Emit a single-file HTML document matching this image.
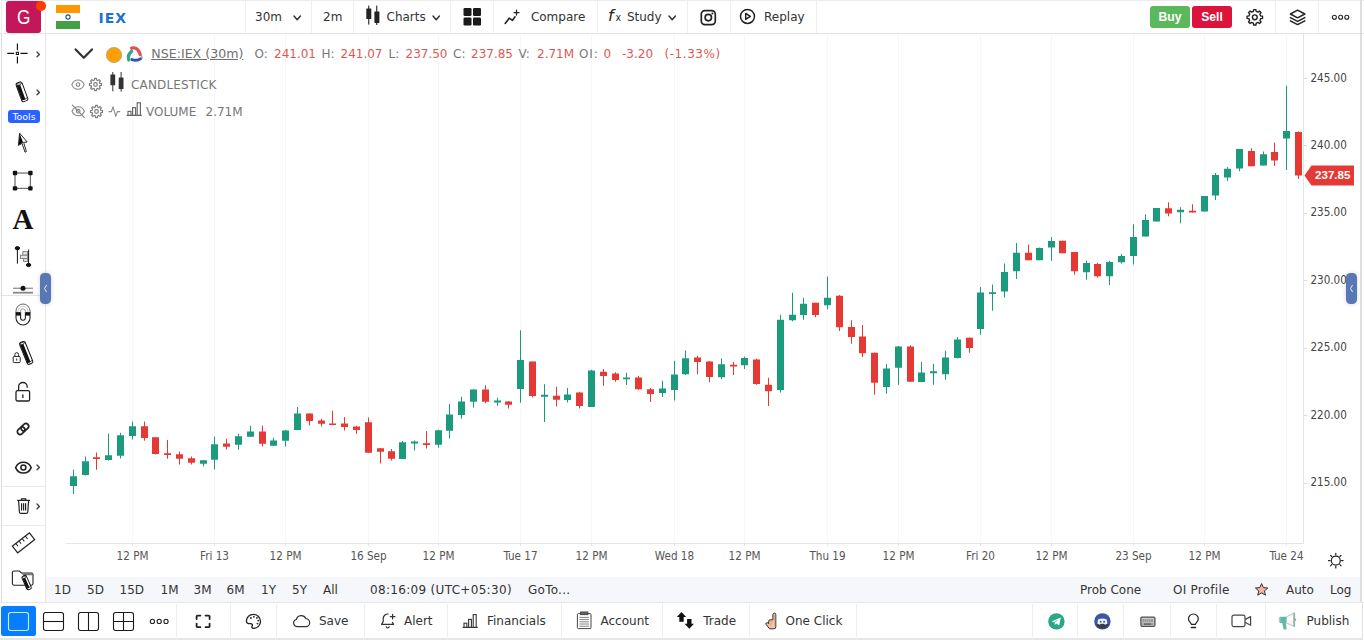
<!DOCTYPE html>
<html lang="en"><head><meta charset="utf-8"><title>IEX Chart</title>
<style>
html,body{margin:0;padding:0;background:#fff}
body{width:1364px;height:640px;position:relative;overflow:hidden;font-family:"DejaVu Sans","Liberation Sans",sans-serif;font-size:12px;color:#333}
.ic{position:absolute;display:block;overflow:visible}
.ln{position:absolute;display:block}
.t{position:absolute;white-space:nowrap;line-height:16px;font-size:12px;color:#333}
.c{position:absolute;white-space:nowrap;line-height:14px;font-size:11.6px;color:#555;font-family:"DejaVu Sans Condensed","DejaVu Sans","Liberation Sans",sans-serif}
.lg{color:#777}
.rv{color:#dd5753}
#chart{position:absolute;left:0;top:0}
</style></head>
<body>
<svg id="chart" width="1364" height="640" viewBox="0 0 1364 640"><rect x="132" y="34" width="1" height="509" fill="#f6f7fa"/><rect x="214" y="34" width="1" height="509" fill="#f6f7fa"/><rect x="285" y="34" width="1" height="509" fill="#f6f7fa"/><rect x="368" y="34" width="1" height="509" fill="#f6f7fa"/><rect x="438" y="34" width="1" height="509" fill="#f6f7fa"/><rect x="520" y="34" width="1" height="509" fill="#f6f7fa"/><rect x="591" y="34" width="1" height="509" fill="#f6f7fa"/><rect x="674" y="34" width="1" height="509" fill="#f6f7fa"/><rect x="744" y="34" width="1" height="509" fill="#f6f7fa"/><rect x="827" y="34" width="1" height="509" fill="#f6f7fa"/><rect x="898" y="34" width="1" height="509" fill="#f6f7fa"/><rect x="980" y="34" width="1" height="509" fill="#f6f7fa"/><rect x="1051" y="34" width="1" height="509" fill="#f6f7fa"/><rect x="1133" y="34" width="1" height="509" fill="#f6f7fa"/><rect x="1204" y="34" width="1" height="509" fill="#f6f7fa"/><rect x="1286" y="34" width="1" height="509" fill="#f6f7fa"/><rect x="1303" y="34" width="1" height="510" fill="#e4e4e4"/><rect x="66" y="543" width="1238" height="1" fill="#e5e5e5"/><rect x="132" y="544" width="1" height="2" fill="#e4e4e4"/><rect x="214" y="544" width="1" height="2" fill="#e4e4e4"/><rect x="285" y="544" width="1" height="2" fill="#e4e4e4"/><rect x="368" y="544" width="1" height="2" fill="#e4e4e4"/><rect x="438" y="544" width="1" height="2" fill="#e4e4e4"/><rect x="520" y="544" width="1" height="2" fill="#e4e4e4"/><rect x="591" y="544" width="1" height="2" fill="#e4e4e4"/><rect x="674" y="544" width="1" height="2" fill="#e4e4e4"/><rect x="744" y="544" width="1" height="2" fill="#e4e4e4"/><rect x="827" y="544" width="1" height="2" fill="#e4e4e4"/><rect x="898" y="544" width="1" height="2" fill="#e4e4e4"/><rect x="980" y="544" width="1" height="2" fill="#e4e4e4"/><rect x="1051" y="544" width="1" height="2" fill="#e4e4e4"/><rect x="1133" y="544" width="1" height="2" fill="#e4e4e4"/><rect x="1204" y="544" width="1" height="2" fill="#e4e4e4"/><rect x="1286" y="544" width="1" height="2" fill="#e4e4e4"/><rect x="1304" y="78" width="3" height="1" fill="#dcdcdc"/><rect x="1304" y="145" width="3" height="1" fill="#dcdcdc"/><rect x="1304" y="213" width="3" height="1" fill="#dcdcdc"/><rect x="1304" y="280" width="3" height="1" fill="#dcdcdc"/><rect x="1304" y="348" width="3" height="1" fill="#dcdcdc"/><rect x="1304" y="415" width="3" height="1" fill="#dcdcdc"/><rect x="1304" y="483" width="3" height="1" fill="#dcdcdc"/><rect x="73" y="469.75" width="1" height="24.25" fill="#1c9a7d"/><rect x="70" y="476.25" width="7" height="9.75" fill="#1c9a7d"/><rect x="85" y="456.5" width="1" height="19" fill="#1c9a7d"/><rect x="82" y="461.25" width="7" height="13.75" fill="#1c9a7d"/><rect x="96" y="452.5" width="1" height="17.25" fill="#e53935"/><rect x="93" y="457.25" width="7" height="1.75" fill="#e53935"/><rect x="108" y="433.75" width="1" height="26.75" fill="#1c9a7d"/><rect x="105" y="455.25" width="7" height="4.75" fill="#1c9a7d"/><rect x="120" y="432.75" width="1" height="25.75" fill="#1c9a7d"/><rect x="117" y="435.25" width="7" height="20.5" fill="#1c9a7d"/><rect x="132" y="421.5" width="1" height="18" fill="#1c9a7d"/><rect x="129" y="426.25" width="7" height="9.75" fill="#1c9a7d"/><rect x="144" y="421.5" width="1" height="19.25" fill="#e53935"/><rect x="141" y="426.25" width="7" height="11.75" fill="#e53935"/><rect x="155" y="437.25" width="1" height="17.25" fill="#e53935"/><rect x="152" y="437.25" width="7" height="16.75" fill="#e53935"/><rect x="167" y="440" width="1" height="18.75" fill="#e53935"/><rect x="164" y="453.25" width="7" height="1.75" fill="#e53935"/><rect x="179" y="451.5" width="1" height="13" fill="#e53935"/><rect x="176" y="454.25" width="7" height="4.5" fill="#e53935"/><rect x="191" y="456.5" width="1" height="8" fill="#e53935"/><rect x="188" y="458.25" width="7" height="4.5" fill="#e53935"/><rect x="203" y="460.25" width="1" height="6.25" fill="#1c9a7d"/><rect x="200" y="460.25" width="7" height="3.5" fill="#1c9a7d"/><rect x="214" y="436.5" width="1" height="33" fill="#1c9a7d"/><rect x="211" y="444.25" width="7" height="15.5" fill="#1c9a7d"/><rect x="226" y="438.75" width="1" height="10.75" fill="#e53935"/><rect x="223" y="443.5" width="7" height="3.25" fill="#e53935"/><rect x="238" y="433.75" width="1" height="16" fill="#1c9a7d"/><rect x="235" y="436.25" width="7" height="8.5" fill="#1c9a7d"/><rect x="250" y="425.75" width="1" height="11.25" fill="#1c9a7d"/><rect x="247" y="431.5" width="7" height="5.25" fill="#1c9a7d"/><rect x="262" y="425.5" width="1" height="21" fill="#e53935"/><rect x="259" y="431.5" width="7" height="12.25" fill="#e53935"/><rect x="273" y="437.75" width="1" height="8.25" fill="#1c9a7d"/><rect x="270" y="440.5" width="7" height="5.25" fill="#1c9a7d"/><rect x="285" y="430" width="1" height="16.5" fill="#1c9a7d"/><rect x="282" y="430.5" width="7" height="10.25" fill="#1c9a7d"/><rect x="297" y="407" width="1" height="23.25" fill="#1c9a7d"/><rect x="294" y="413.5" width="7" height="16.5" fill="#1c9a7d"/><rect x="309" y="413.25" width="1" height="12.25" fill="#e53935"/><rect x="306" y="413.5" width="7" height="7.5" fill="#e53935"/><rect x="321" y="418.75" width="1" height="7.75" fill="#e53935"/><rect x="318" y="420.5" width="7" height="3.25" fill="#e53935"/><rect x="332" y="410.75" width="1" height="14.25" fill="#e53935"/><rect x="329" y="423.5" width="7" height="1.5" fill="#e53935"/><rect x="344" y="417" width="1" height="13.5" fill="#e53935"/><rect x="341" y="423.5" width="7" height="3.5" fill="#e53935"/><rect x="356" y="426.25" width="1" height="7.5" fill="#e53935"/><rect x="353" y="426.5" width="7" height="3.5" fill="#e53935"/><rect x="368" y="417.5" width="1" height="35.5" fill="#e53935"/><rect x="365" y="422.25" width="7" height="30.5" fill="#e53935"/><rect x="380" y="448.25" width="1" height="15.25" fill="#e53935"/><rect x="377" y="448.25" width="7" height="3.5" fill="#e53935"/><rect x="391" y="449" width="1" height="11.5" fill="#e53935"/><rect x="388" y="451.25" width="7" height="7.5" fill="#e53935"/><rect x="402" y="441" width="1" height="18" fill="#1c9a7d"/><rect x="399" y="442.25" width="7" height="16.75" fill="#1c9a7d"/><rect x="414" y="440.5" width="1" height="10" fill="#1c9a7d"/><rect x="411" y="441.5" width="7" height="2" fill="#1c9a7d"/><rect x="426" y="431" width="1" height="17.5" fill="#e53935"/><rect x="423" y="443.25" width="7" height="1.75" fill="#e53935"/><rect x="438" y="429.75" width="1" height="18" fill="#1c9a7d"/><rect x="435" y="430.25" width="7" height="14.5" fill="#1c9a7d"/><rect x="449" y="404" width="1" height="34.5" fill="#1c9a7d"/><rect x="446" y="414.5" width="7" height="16.25" fill="#1c9a7d"/><rect x="461" y="396.75" width="1" height="22" fill="#1c9a7d"/><rect x="458" y="401.5" width="7" height="13.5" fill="#1c9a7d"/><rect x="473" y="389.25" width="1" height="18.25" fill="#1c9a7d"/><rect x="470" y="389.5" width="7" height="12.25" fill="#1c9a7d"/><rect x="485" y="385.25" width="1" height="18" fill="#e53935"/><rect x="482" y="389.5" width="7" height="12.25" fill="#e53935"/><rect x="497" y="397.75" width="1" height="8" fill="#1c9a7d"/><rect x="494" y="400.5" width="7" height="2" fill="#1c9a7d"/><rect x="508" y="401" width="1" height="7.5" fill="#e53935"/><rect x="505" y="401.5" width="7" height="3.25" fill="#e53935"/><rect x="520" y="330.25" width="1" height="72.5" fill="#1c9a7d"/><rect x="517" y="360" width="7" height="29" fill="#1c9a7d"/><rect x="532" y="361.5" width="1" height="36" fill="#e53935"/><rect x="529" y="361.5" width="7" height="34.5" fill="#e53935"/><rect x="544" y="384.25" width="1" height="37.75" fill="#1c9a7d"/><rect x="541" y="394.75" width="7" height="2" fill="#1c9a7d"/><rect x="556" y="386.75" width="1" height="19.75" fill="#e53935"/><rect x="553" y="395.75" width="7" height="4" fill="#e53935"/><rect x="567" y="388" width="1" height="14.5" fill="#1c9a7d"/><rect x="564" y="394.5" width="7" height="5.5" fill="#1c9a7d"/><rect x="579" y="392" width="1" height="16.5" fill="#e53935"/><rect x="576" y="392.5" width="7" height="13.5" fill="#e53935"/><rect x="591" y="369.75" width="1" height="37.25" fill="#1c9a7d"/><rect x="588" y="370.5" width="7" height="36.5" fill="#1c9a7d"/><rect x="603" y="369" width="1" height="16.75" fill="#e53935"/><rect x="600" y="371.75" width="7" height="4.25" fill="#e53935"/><rect x="615" y="372.25" width="1" height="9.5" fill="#e53935"/><rect x="612" y="373.5" width="7" height="6.5" fill="#e53935"/><rect x="626" y="372.75" width="1" height="12.25" fill="#1c9a7d"/><rect x="623" y="377.5" width="7" height="1.75" fill="#1c9a7d"/><rect x="638" y="375.75" width="1" height="14" fill="#e53935"/><rect x="635" y="377.5" width="7" height="11.75" fill="#e53935"/><rect x="650" y="388" width="1" height="14" fill="#e53935"/><rect x="647" y="389.25" width="7" height="4.75" fill="#e53935"/><rect x="662" y="380.75" width="1" height="16.25" fill="#1c9a7d"/><rect x="659" y="388.5" width="7" height="4.5" fill="#1c9a7d"/><rect x="674" y="360.75" width="1" height="39.75" fill="#1c9a7d"/><rect x="671" y="374.5" width="7" height="15.5" fill="#1c9a7d"/><rect x="685" y="350.5" width="1" height="24.5" fill="#1c9a7d"/><rect x="682" y="358.25" width="7" height="16" fill="#1c9a7d"/><rect x="697" y="355.75" width="1" height="18.5" fill="#e53935"/><rect x="694" y="357.5" width="7" height="4.5" fill="#e53935"/><rect x="709" y="361" width="1" height="21.25" fill="#e53935"/><rect x="706" y="361.5" width="7" height="15.5" fill="#e53935"/><rect x="721" y="358.5" width="1" height="20.5" fill="#1c9a7d"/><rect x="718" y="364.25" width="7" height="13" fill="#1c9a7d"/><rect x="733" y="361.75" width="1" height="13.25" fill="#e53935"/><rect x="730" y="364.75" width="7" height="1.75" fill="#e53935"/><rect x="744" y="356.5" width="1" height="12.5" fill="#1c9a7d"/><rect x="741" y="358" width="7" height="7.25" fill="#1c9a7d"/><rect x="756" y="358.75" width="1" height="26" fill="#e53935"/><rect x="753" y="359.5" width="7" height="24.5" fill="#e53935"/><rect x="768" y="377.75" width="1" height="28.25" fill="#e53935"/><rect x="765" y="384.75" width="7" height="6.5" fill="#e53935"/><rect x="780" y="314.75" width="1" height="77.75" fill="#1c9a7d"/><rect x="777" y="319.75" width="7" height="70.25" fill="#1c9a7d"/><rect x="792" y="292.75" width="1" height="28.5" fill="#1c9a7d"/><rect x="789" y="314.75" width="7" height="5.5" fill="#1c9a7d"/><rect x="803" y="297.75" width="1" height="22" fill="#1c9a7d"/><rect x="800" y="303.75" width="7" height="11.25" fill="#1c9a7d"/><rect x="815" y="302.75" width="1" height="14.5" fill="#e53935"/><rect x="812" y="302.75" width="7" height="12.25" fill="#e53935"/><rect x="827" y="276.5" width="1" height="32.75" fill="#1c9a7d"/><rect x="824" y="297.75" width="7" height="7.5" fill="#1c9a7d"/><rect x="839" y="295" width="1" height="36" fill="#e53935"/><rect x="836" y="295.75" width="7" height="31.5" fill="#e53935"/><rect x="851" y="320.25" width="1" height="23.5" fill="#e53935"/><rect x="848" y="327" width="7" height="10" fill="#e53935"/><rect x="862" y="325" width="1" height="32" fill="#e53935"/><rect x="859" y="336.5" width="7" height="16.75" fill="#e53935"/><rect x="874" y="352.75" width="1" height="42" fill="#e53935"/><rect x="871" y="352.75" width="7" height="30" fill="#e53935"/><rect x="886" y="364" width="1" height="29.75" fill="#1c9a7d"/><rect x="883" y="368.5" width="7" height="18.5" fill="#1c9a7d"/><rect x="898" y="346" width="1" height="38.75" fill="#1c9a7d"/><rect x="895" y="346.5" width="7" height="21.25" fill="#1c9a7d"/><rect x="910" y="345.25" width="1" height="36.5" fill="#e53935"/><rect x="907" y="346.5" width="7" height="35.25" fill="#e53935"/><rect x="921" y="362" width="1" height="20.25" fill="#1c9a7d"/><rect x="918" y="372.5" width="7" height="9.5" fill="#1c9a7d"/><rect x="933" y="363.75" width="1" height="21" fill="#1c9a7d"/><rect x="930" y="371.25" width="7" height="2" fill="#1c9a7d"/><rect x="945" y="350.75" width="1" height="29" fill="#1c9a7d"/><rect x="942" y="357.5" width="7" height="16.75" fill="#1c9a7d"/><rect x="957" y="337" width="1" height="21.5" fill="#1c9a7d"/><rect x="954" y="339.5" width="7" height="18.5" fill="#1c9a7d"/><rect x="969" y="337.5" width="1" height="15.25" fill="#e53935"/><rect x="966" y="337.75" width="7" height="10.25" fill="#e53935"/><rect x="980" y="287" width="1" height="47.75" fill="#1c9a7d"/><rect x="977" y="292.5" width="7" height="36.5" fill="#1c9a7d"/><rect x="992" y="284.5" width="1" height="26.25" fill="#1c9a7d"/><rect x="989" y="292.25" width="7" height="1.75" fill="#1c9a7d"/><rect x="1004" y="263.5" width="1" height="34" fill="#1c9a7d"/><rect x="1001" y="272" width="7" height="19.5" fill="#1c9a7d"/><rect x="1016" y="243" width="1" height="36" fill="#1c9a7d"/><rect x="1013" y="252.75" width="7" height="18.5" fill="#1c9a7d"/><rect x="1028" y="244.5" width="1" height="15.75" fill="#e53935"/><rect x="1025" y="252.75" width="7" height="7.5" fill="#e53935"/><rect x="1039" y="247.5" width="1" height="12.75" fill="#1c9a7d"/><rect x="1036" y="248" width="7" height="12.25" fill="#1c9a7d"/><rect x="1051" y="237" width="1" height="23.75" fill="#1c9a7d"/><rect x="1048" y="241" width="7" height="6.5" fill="#1c9a7d"/><rect x="1062" y="240.75" width="1" height="12.5" fill="#e53935"/><rect x="1059" y="240.75" width="7" height="12.5" fill="#e53935"/><rect x="1074" y="252" width="1" height="22.75" fill="#e53935"/><rect x="1071" y="252" width="7" height="19.25" fill="#e53935"/><rect x="1086" y="260.5" width="1" height="19.25" fill="#1c9a7d"/><rect x="1083" y="263" width="7" height="9.25" fill="#1c9a7d"/><rect x="1097" y="262.75" width="1" height="14.75" fill="#e53935"/><rect x="1094" y="264" width="7" height="12.25" fill="#e53935"/><rect x="1109" y="260.75" width="1" height="24.25" fill="#1c9a7d"/><rect x="1106" y="262" width="7" height="14.25" fill="#1c9a7d"/><rect x="1121" y="254" width="1" height="9.5" fill="#1c9a7d"/><rect x="1118" y="256" width="7" height="6.25" fill="#1c9a7d"/><rect x="1133" y="224.25" width="1" height="40.25" fill="#1c9a7d"/><rect x="1130" y="237" width="7" height="19" fill="#1c9a7d"/><rect x="1145" y="214.25" width="1" height="22.25" fill="#1c9a7d"/><rect x="1142" y="220" width="7" height="16.5" fill="#1c9a7d"/><rect x="1156" y="208" width="1" height="13.5" fill="#1c9a7d"/><rect x="1153" y="208" width="7" height="13.5" fill="#1c9a7d"/><rect x="1168" y="202.25" width="1" height="14" fill="#e53935"/><rect x="1165" y="208.25" width="7" height="5.25" fill="#e53935"/><rect x="1180" y="207.25" width="1" height="16" fill="#1c9a7d"/><rect x="1177" y="209.75" width="7" height="2.5" fill="#1c9a7d"/><rect x="1192" y="204.25" width="1" height="8.25" fill="#e53935"/><rect x="1189" y="210.75" width="7" height="1.75" fill="#e53935"/><rect x="1204" y="196" width="1" height="15.5" fill="#1c9a7d"/><rect x="1201" y="196" width="7" height="15.5" fill="#1c9a7d"/><rect x="1215" y="173" width="1" height="27" fill="#1c9a7d"/><rect x="1212" y="175" width="7" height="20.5" fill="#1c9a7d"/><rect x="1227" y="167" width="1" height="14" fill="#1c9a7d"/><rect x="1224" y="168.75" width="7" height="8.75" fill="#1c9a7d"/><rect x="1239" y="149" width="1" height="22.25" fill="#1c9a7d"/><rect x="1236" y="149" width="7" height="19.5" fill="#1c9a7d"/><rect x="1251" y="148.25" width="1" height="18" fill="#e53935"/><rect x="1248" y="151" width="7" height="15.25" fill="#e53935"/><rect x="1263" y="151.5" width="1" height="14" fill="#1c9a7d"/><rect x="1260" y="154.25" width="7" height="11.25" fill="#1c9a7d"/><rect x="1274" y="142.5" width="1" height="23.5" fill="#e53935"/><rect x="1271" y="152" width="7" height="8.5" fill="#e53935"/><rect x="1286" y="85.75" width="1" height="84.25" fill="#1c9a7d"/><rect x="1283" y="131" width="7" height="7.5" fill="#1c9a7d"/><rect x="1298" y="131.5" width="1" height="47.5" fill="#e53935"/><rect x="1295" y="132" width="7" height="43.5" fill="#e53935"/><path d="M1304.5 175.5 L1311.5 165.5 H1354 V185.5 H1311.5 Z" fill="#e53935"/></svg>
<span class="c" style="left:102.5px;top:548.5px;width:60px;text-align:center">12 PM</span>
<span class="c" style="left:184.5px;top:548.5px;width:60px;text-align:center">Fri 13</span>
<span class="c" style="left:255.5px;top:548.5px;width:60px;text-align:center">12 PM</span>
<span class="c" style="left:338.5px;top:548.5px;width:60px;text-align:center">16 Sep</span>
<span class="c" style="left:408.5px;top:548.5px;width:60px;text-align:center">12 PM</span>
<span class="c" style="left:490.5px;top:548.5px;width:60px;text-align:center">Tue 17</span>
<span class="c" style="left:561.5px;top:548.5px;width:60px;text-align:center">12 PM</span>
<span class="c" style="left:644.5px;top:548.5px;width:60px;text-align:center">Wed 18</span>
<span class="c" style="left:714.5px;top:548.5px;width:60px;text-align:center">12 PM</span>
<span class="c" style="left:797.5px;top:548.5px;width:60px;text-align:center">Thu 19</span>
<span class="c" style="left:868.5px;top:548.5px;width:60px;text-align:center">12 PM</span>
<span class="c" style="left:950.5px;top:548.5px;width:60px;text-align:center">Fri 20</span>
<span class="c" style="left:1021.5px;top:548.5px;width:60px;text-align:center">12 PM</span>
<span class="c" style="left:1103.5px;top:548.5px;width:60px;text-align:center">23 Sep</span>
<span class="c" style="left:1174.5px;top:548.5px;width:60px;text-align:center">12 PM</span>
<span class="c" style="left:1256.5px;top:548.5px;width:60px;text-align:center">Tue 24</span>
<span class="c" style="left:1310.4px;top:70.5px;color:#444">245.00</span>
<span class="c" style="left:1310.4px;top:137.9px;color:#444">240.00</span>
<span class="c" style="left:1310.4px;top:205.3px;color:#444">235.00</span>
<span class="c" style="left:1310.4px;top:272.7px;color:#444">230.00</span>
<span class="c" style="left:1310.4px;top:340.1px;color:#444">225.00</span>
<span class="c" style="left:1310.4px;top:407.5px;color:#444">220.00</span>
<span class="c" style="left:1310.4px;top:474.9px;color:#444">215.00</span>
<span class="c" style="left:1315px;top:168.4px;color:#fff;font:bold 11.6px/14px 'Liberation Sans',sans-serif">237.85</span>
<svg class="ic" style="left:1326px;top:551px" width="20" height="20" viewBox="0 0 20 20" ><g fill="none" stroke="#222" stroke-width="1.2" stroke-linecap="round"><circle cx="9.8" cy="9.6" r="4.5"/><path d="M9.8 2.3v1.6M9.8 15.3v1.6M2.5 9.6h1.6M15.5 9.6h1.6M4.6 4.4l1.1 1.1M13.9 13.7l1.1 1.1M15 4.4l-1.1 1.1M5.7 13.7l-1.1 1.1"/></g></svg>
<i class="ln" style="left:0px;top:0px;width:1364px;height:1px;background:#ececec"></i>
<i class="ln" style="left:0px;top:33px;width:1364px;height:1px;background:#e4e4e4"></i>
<i class="ln" style="left:45px;top:1px;width:1px;height:32px;background:#eeeeee"></i>
<i class="ln" style="left:245px;top:1px;width:1px;height:32px;background:#eeeeee"></i>
<i class="ln" style="left:311px;top:1px;width:1px;height:32px;background:#eeeeee"></i>
<i class="ln" style="left:353px;top:1px;width:1px;height:32px;background:#eeeeee"></i>
<i class="ln" style="left:450px;top:1px;width:1px;height:32px;background:#eeeeee"></i>
<i class="ln" style="left:493px;top:1px;width:1px;height:32px;background:#eeeeee"></i>
<i class="ln" style="left:597px;top:1px;width:1px;height:32px;background:#eeeeee"></i>
<i class="ln" style="left:687px;top:1px;width:1px;height:32px;background:#eeeeee"></i>
<i class="ln" style="left:730px;top:1px;width:1px;height:32px;background:#eeeeee"></i>
<i class="ln" style="left:816px;top:1px;width:1px;height:32px;background:#eeeeee"></i>
<i class="ln" style="left:1275px;top:1px;width:1px;height:32px;background:#eeeeee"></i>
<i class="ln" style="left:1318px;top:1px;width:1px;height:32px;background:#eeeeee"></i>
<i class="ln" style="left:1px;top:1px;width:1px;height:32px;background:#ececec"></i>
<div class="ln" style="left:6px;top:1px;width:35px;height:32px;border-radius:3px;background:#c2185b;color:#fff;font:20px/33px 'Liberation Sans',sans-serif;text-align:center"><span style="display:inline-block;transform:scaleX(0.86)">G</span></div>
<div class="ln" style="left:36.2px;top:1.4px;width:9.4px;height:9.4px;border-radius:50%;background:#ff3d00"></div>
<svg class="ic" style="left:56px;top:5px" width="24" height="24" viewBox="0 0 24 24" ><rect width="24" height="8" fill="#ff9800"/><rect y="8" width="24" height="8" fill="#fff"/><rect y="16" width="24" height="8" fill="#43a047"/><circle cx="12" cy="12" r="2.1" fill="none" stroke="#1e4fa3" stroke-width="1.1"/></svg>
<span class="t" style="left:98.6px;top:8px;font-weight:bold;font-size:14px;color:#1b72d0;line-height:20px;letter-spacing:1px">IEX</span>
<span class="t" style="left:255px;top:9px;">30m</span>
<svg class="ic" style="left:292.5px;top:14.6px" width="8.4" height="5.7" viewBox="0 0 8.4 5.7"><path d="M1 1 L4.2 4.7 L7.4 1" fill="none" stroke="#333" stroke-width="1.5" stroke-linecap="round" stroke-linejoin="round"/></svg>
<span class="t" style="left:323px;top:9px;">2m</span>
<svg class="ic" style="left:364px;top:4px" width="18" height="23" viewBox="0 0 18 23" ><g fill="#222"><rect x="4.2" y="1.6" width="1.1" height="19"/><rect x="2.3" y="4.4" width="5" height="10.6" rx="0.6"/><rect x="12.2" y="1.6" width="1.1" height="19.4"/><rect x="10.4" y="7.6" width="5" height="11.3" rx="0.6"/></g></svg>
<span class="t" style="left:386.5px;top:9px;">Charts</span>
<svg class="ic" style="left:431.5px;top:14.6px" width="8.4" height="5.7" viewBox="0 0 8.4 5.7"><path d="M1 1 L4.2 4.7 L7.4 1" fill="none" stroke="#333" stroke-width="1.5" stroke-linecap="round" stroke-linejoin="round"/></svg>
<svg class="ic" style="left:463px;top:7px" width="19" height="19" viewBox="0 0 19 19" ><g fill="#1a1a1a"><rect x="0.5" y="1" width="8" height="8" rx="1.3"/><rect x="10" y="1" width="8" height="8" rx="1.3"/><rect x="0.5" y="10.5" width="8" height="8" rx="1.3"/><rect x="10" y="10.5" width="8" height="8" rx="1.3"/></g></svg>
<svg class="ic" style="left:504px;top:9px" width="18" height="17" viewBox="0 0 18 17" ><g fill="none" stroke="#222" stroke-width="1.5" stroke-linecap="round" stroke-linejoin="round"><path d="M1.2 14.4 L5.2 9.2 L8.5 11.4 L11 7.8" stroke-width="1.6"/><path d="M12.5 1.2v4.9M10.05 3.65h4.9" stroke-width="1.25"/></g></svg>
<span class="t" style="left:530.9px;top:9px;">Compare</span>
<span class="t" style="left:608px;top:6.3px;font:italic 16px/20px 'DejaVu Sans',sans-serif;color:#222">f</span>
<span class="t" style="left:615.6px;top:11.3px;font:10.4px/12px 'DejaVu Sans Condensed','DejaVu Sans',sans-serif;color:#222">x</span>
<span class="t" style="left:626.9px;top:9px;">Study</span>
<svg class="ic" style="left:668.3px;top:14.6px" width="8.4" height="5.7" viewBox="0 0 8.4 5.7"><path d="M1 1 L4.2 4.7 L7.4 1" fill="none" stroke="#333" stroke-width="1.5" stroke-linecap="round" stroke-linejoin="round"/></svg>
<svg class="ic" style="left:700px;top:9px" width="17" height="17" viewBox="0 0 17 17" ><g fill="none" stroke="#222" stroke-width="1.7"><rect x="1.3" y="1.6" width="14" height="14" rx="3.6"/><circle cx="8.3" cy="8.6" r="3.2"/></g><circle cx="12.4" cy="4.6" r="1" fill="#222"/></svg>
<svg class="ic" style="left:739px;top:8px" width="17" height="17" viewBox="0 0 17 17" ><g fill="none" stroke="#222" stroke-width="1.5" stroke-linejoin="round"><circle cx="8.5" cy="8.4" r="7"/><path d="M6.7 5.4 L11.3 8.4 L6.7 11.4Z" stroke-width="1.5"/></g></svg>
<span class="t" style="left:764px;top:9px;">Replay</span>
<div class="ln" style="left:1150px;top:6px;width:40px;height:22px;border-radius:3px;background:#5cb85c;color:#fff;font:bold 12.2px/22px 'Liberation Sans',sans-serif;text-align:center">Buy</div>
<div class="ln" style="left:1192px;top:6px;width:40px;height:22px;border-radius:3px;background:#dc143c;color:#fff;font:bold 12.2px/22px 'Liberation Sans',sans-serif;text-align:center">Sell</div>
<svg class="ic" style="left:1246px;top:8px" width="18" height="18" viewBox="0 0 18 18" ><g fill="none" stroke="#222" stroke-width="1.4" stroke-linejoin="round"><path d="M14.63 7.90 L16.52 8.20 L16.52 10.40 L14.63 10.70 L13.92 12.43 L15.04 13.98 L13.48 15.54 L11.93 14.42 L10.20 15.13 L9.90 17.02 L7.70 17.02 L7.40 15.13 L5.67 14.42 L4.12 15.54 L2.56 13.98 L3.68 12.43 L2.97 10.70 L1.08 10.40 L1.08 8.20 L2.97 7.90 L3.68 6.17 L2.56 4.62 L4.12 3.06 L5.67 4.18 L7.40 3.47 L7.70 1.58 L9.90 1.58 L10.20 3.47 L11.93 4.18 L13.48 3.06 L15.04 4.62 L13.92 6.17Z"/><circle cx="8.8" cy="9.3" r="2.4"/></g></svg>
<svg class="ic" style="left:1289px;top:9px" width="18" height="17" viewBox="0 0 18 17" ><g fill="none" stroke="#222" stroke-width="1.5" stroke-linejoin="round" stroke-linecap="round"><path d="M8.6 1.2 L15.8 5 L8.6 8.8 L1.4 5Z"/><path d="M1.4 8.6 L8.6 12.4 L15.8 8.6"/><path d="M1.4 11.8 L8.6 15.6 L15.8 11.8"/></g></svg>
<svg class="ic" style="left:1331px;top:14px" width="20" height="7" viewBox="0 0 20 7" ><g fill="none" stroke="#222" stroke-width="1.1"><circle cx="3.4" cy="3.3" r="2"/><circle cx="9.6" cy="3.3" r="2"/><circle cx="15.8" cy="3.3" r="2"/></g></svg>
<svg class="ic" style="left:73px;top:46px" width="22" height="16" viewBox="0 0 22 16" ><path d="M2.6 3.4 L10.8 11.8 L19 3.4" fill="none" stroke="#333" stroke-width="2.2" stroke-linecap="round" stroke-linejoin="round"/></svg>
<div class="ln" style="left:106px;top:47px;width:13.6px;height:13.6px;border-radius:50%;background:#ffa000;border:0.7px solid #b9a27a"></div>
<svg class="ic" style="left:126px;top:45px" width="18" height="18" viewBox="0 0 18 18" ><g fill="none" stroke-linecap="round"><path d="M5.6 3.2 Q11.8 1.6 14.2 9.6" stroke="#dc5350" stroke-width="3.3"/><path d="M5.6 6.4 Q1.2 10 2.8 15" stroke="#36a78c" stroke-width="3.3"/><path d="M6 14.6 Q10.6 16.2 14.6 13.8" stroke="#2f55a4" stroke-width="3"/><path d="M15.7 10.8 L16 13.2" stroke="#9aa3ad" stroke-width="1.4"/></g></svg>
<span class="t lg" style="left:151.3px;top:46px;font-size:12.6px;text-decoration:underline;color:#707070">NSE:IEX (30m)</span>
<span class="t lg" style="left:254.5px;top:46px;">O:</span>
<span class="t rv" style="left:274px;top:46px;">241.01</span>
<span class="t lg" style="left:321.5px;top:46px;">H:</span>
<span class="t rv" style="left:340.5px;top:46px;">241.07</span>
<span class="t lg" style="left:388.5px;top:46px;">L:</span>
<span class="t rv" style="left:405.5px;top:46px;">237.50</span>
<span class="t lg" style="left:453px;top:46px;">C:</span>
<span class="t rv" style="left:471px;top:46px;">237.85</span>
<span class="t lg" style="left:518.5px;top:46px;">V:</span>
<span class="t rv" style="left:537px;top:46px;">2.71M</span>
<span class="t lg" style="left:579px;top:46px;letter-spacing:0.9px">OI:</span>
<span class="t rv" style="left:603.5px;top:46px;">0</span>
<span class="t rv" style="left:622px;top:46px;">-3.20</span>
<span class="t rv" style="left:664.5px;top:46px;letter-spacing:0.55px">(-1.33%)</span>
<svg class="ic" style="left:70.6px;top:78.6px" width="14" height="12" viewBox="0 0 14 12" ><g fill="none" stroke="#868686" stroke-width="1.1" stroke-linejoin="round"><path d="M0.8 5.6 C3.4 -0.6 10.6 -0.6 13.2 5.6 C10.6 11.8 3.4 11.8 0.8 5.6Z"/><circle cx="7" cy="5.6" r="1.8"/></g></svg>
<svg class="ic" style="left:89px;top:78px" width="13" height="13" viewBox="0 0 13 13" ><g fill="none" stroke="#7c7c7c" stroke-width="1.2" stroke-linejoin="round"><path d="M10.97 5.43 L12.54 5.64 L12.54 7.36 L10.97 7.57 L10.42 8.90 L11.38 10.16 L10.16 11.38 L8.90 10.42 L7.57 10.97 L7.36 12.54 L5.64 12.54 L5.43 10.97 L4.10 10.42 L2.84 11.38 L1.62 10.16 L2.58 8.90 L2.03 7.57 L0.46 7.36 L0.46 5.64 L2.03 5.43 L2.58 4.10 L1.62 2.84 L2.84 1.62 L4.10 2.58 L5.43 2.03 L5.64 0.46 L7.36 0.46 L7.57 2.03 L8.90 2.58 L10.16 1.62 L11.38 2.84 L10.42 4.10Z"/><circle cx="6.5" cy="6.5" r="1.8"/></g></svg>
<svg class="ic" style="left:109px;top:71px" width="16" height="22" viewBox="0 0 16 22" ><g fill="#333"><rect x="3.3" y="1" width="1" height="19.4"/><rect x="1.4" y="3.6" width="4.8" height="10.6" rx="0.5"/><rect x="11.6" y="1" width="1" height="19.6"/><rect x="9.7" y="6.6" width="4.8" height="11.4" rx="0.5"/></g></svg>
<span class="t lg" style="left:131px;top:77px;letter-spacing:0.15px">CANDLESTICK</span>
<svg class="ic" style="left:71px;top:104px" width="15" height="14" viewBox="0 0 15 14" ><g fill="none" stroke="#868686" stroke-width="1.1" stroke-linecap="round" stroke-linejoin="round"><path d="M1 7.2 C3.6 1.2 10.8 1.2 13.4 7.2 C10.8 13.2 3.6 13.2 1 7.2Z"/><circle cx="7.2" cy="7.2" r="1.8"/><path d="M1.4 1.2 L13.2 13.4" stroke-width="1.2"/></g></svg>
<svg class="ic" style="left:90px;top:104.5px" width="13" height="13" viewBox="0 0 13 13" ><g fill="none" stroke="#7c7c7c" stroke-width="1.2" stroke-linejoin="round"><path d="M10.97 5.43 L12.54 5.64 L12.54 7.36 L10.97 7.57 L10.42 8.90 L11.38 10.16 L10.16 11.38 L8.90 10.42 L7.57 10.97 L7.36 12.54 L5.64 12.54 L5.43 10.97 L4.10 10.42 L2.84 11.38 L1.62 10.16 L2.58 8.90 L2.03 7.57 L0.46 7.36 L0.46 5.64 L2.03 5.43 L2.58 4.10 L1.62 2.84 L2.84 1.62 L4.10 2.58 L5.43 2.03 L5.64 0.46 L7.36 0.46 L7.57 2.03 L8.90 2.58 L10.16 1.62 L11.38 2.84 L10.42 4.10Z"/><circle cx="6.5" cy="6.5" r="1.8"/></g></svg>
<svg class="ic" style="left:108px;top:106px" width="13" height="11" viewBox="0 0 13 11" ><path d="M1 5.6 H3.4 L5 0.8 L7.8 10.4 L9.4 5.6 H11.8" fill="none" stroke="#8a8a8a" stroke-width="1.1" stroke-linejoin="round" stroke-linecap="round"/></svg>
<svg class="ic" style="left:125.5px;top:102px" width="16" height="14" viewBox="0 0 16 14" ><g fill="none" stroke="#666" stroke-width="1.15"><path d="M0.6 13.4 H15.8"/><rect x="2" y="9.4" width="3" height="4"/><rect x="6.6" y="5.6" width="3" height="7.8"/><rect x="11.2" y="0.8" width="3.2" height="12.6"/></g></svg>
<span class="t lg" style="left:146px;top:103.6px;">VOLUME</span>
<span class="t lg" style="left:205.5px;top:103.6px;">2.71M</span>
<i class="ln" style="left:45px;top:34px;width:1px;height:568px;background:#e6e6e6"></i>
<i class="ln" style="left:1px;top:34px;width:1px;height:568px;background:#dcdcdc"></i>
<i class="ln" style="left:2px;top:295px;width:40px;height:1px;background:#e4e4e4"></i>
<i class="ln" style="left:2px;top:486px;width:43px;height:1px;background:#ebebeb"></i>
<i class="ln" style="left:2px;top:525px;width:43px;height:1px;background:#ebebeb"></i>
<svg class="ic" style="left:7px;top:43px" width="22" height="22" viewBox="0 0 22 22" ><g stroke="#111" stroke-width="1.1" fill="none"><path d="M10.4 0.4V7.3M10.4 13.5V20.6M0.3 10.4H7.1M13.5 10.4H20.6" stroke-width="1.15"/><rect x="9.3" y="9.3" width="2.2" height="2.2" stroke-width="1"/></g></svg>
<svg class="ic" style="left:36.4px;top:51.1px" width="4.4" height="6.8" viewBox="0 0 4.4 6.8"><path d="M1 1 L3.4 3.4 L1 5.8" fill="none" stroke="#444" stroke-width="1.4" stroke-linecap="round" stroke-linejoin="round"/></svg>
<svg class="ic" style="left:14px;top:81px" width="16" height="21" viewBox="0 0 16 21" ><g transform="rotate(-20 7.95 10.85)"><rect x="4.75" y="0.95" width="6.4" height="19.8" rx="1.7" fill="#fff" stroke="#111" stroke-width="0.95"/><rect x="5.05" y="2.85" width="3.58" height="16.20" fill="#111"/><ellipse cx="7.95" cy="2.45" rx="2.50" ry="1" fill="#fff" stroke="#111" stroke-width="0.7"/><path d="M5.15 18.15 Q7.95 19.55 10.75 18.15" fill="none" stroke="#111" stroke-width="0.7"/></g></svg>
<svg class="ic" style="left:36.4px;top:88.9px" width="4.4" height="6.8" viewBox="0 0 4.4 6.8"><path d="M1 1 L3.4 3.4 L1 5.8" fill="none" stroke="#444" stroke-width="1.4" stroke-linecap="round" stroke-linejoin="round"/></svg>
<div class="ln" style="left:8px;top:110px;width:32px;height:13px;border-radius:3px;background:#2962ff;color:#fff;font:9.4px/13px 'DejaVu Sans',sans-serif;text-align:center">Tools</div>
<svg class="ic" style="left:17px;top:132px" width="12" height="22" viewBox="0 0 12 22" ><path d="M2.6 1.2 L10.2 10 L6.6 10.4 L9.4 19.6 L8 20.2 L5 11.4 L1.4 13.4Z" fill="#fff" stroke="#111" stroke-width="0.9" stroke-linejoin="round"/><path d="M2.6 1.6 L6.2 10.6 L1.6 13Z" fill="#111"/></svg>
<svg class="ic" style="left:12px;top:170px" width="22" height="22" viewBox="0 0 22 22" ><rect x="3" y="3" width="15.4" height="15.4" fill="none" stroke="#707070" stroke-width="1.25"/><g fill="#111"><rect x="0.8" y="0.8" width="4.4" height="4.4" rx="1"/><rect x="16.2" y="0.8" width="4.4" height="4.4" rx="1"/><rect x="0.8" y="16.2" width="4.4" height="4.4" rx="1"/><rect x="16.2" y="16.2" width="4.4" height="4.4" rx="1"/></g></svg>
<span class="t" style="left:12.6px;top:203px;font:bold 29px/32px 'Liberation Serif',serif;color:#111">A</span>
<svg class="ic" style="left:13px;top:246px" width="20" height="21" viewBox="0 0 20 21" ><g stroke="#111" fill="none" stroke-width="1"><path d="M4.4 2.6V17.6M15.6 3.6V19"/><ellipse cx="4.4" cy="2.2" rx="2.2" ry="1.6" fill="#111"/><ellipse cx="15.6" cy="19" rx="2.2" ry="1.6" fill="#111"/><g stroke="#777" stroke-width="0.9" fill="#e4e4e4"><rect x="9.8" y="5.6" width="4.8" height="3.6"/><rect x="7.4" y="9.2" width="7.2" height="3.4"/><rect x="10.6" y="12.6" width="4" height="2.8"/></g></g></svg>
<svg class="ic" style="left:12px;top:284px" width="22" height="11" viewBox="0 0 22 11" ><rect x="1" y="3.6" width="20" height="1.4" fill="#999"/><rect x="1" y="7.8" width="20" height="1.8" fill="#888"/><circle cx="11" cy="4.3" r="2.5" fill="#111"/></svg>
<svg class="ic" style="left:14px;top:303px" width="18" height="25" viewBox="0 0 18 25" ><path d="M2 9.6 V15 A7 7 0 0 0 16 15 V9.6 H11.4 V14.8 A2.4 2.4 0 0 1 6.6 14.8 V9.6 Z" fill="#fff" stroke="#222" stroke-width="1.1"/><rect x="2" y="9.6" width="4.6" height="3" fill="#111"/><rect x="11.4" y="9.6" width="4.6" height="3" fill="#111"/><path d="M2 9.6 V8 A7 7 0 0 1 16 8 V9.6" fill="none" stroke="#555" stroke-width="0.9"/><path d="M6.6 9.6 V8.2 A2.4 2.4 0 0 1 11.4 8.2 V9.6" fill="none" stroke="#888" stroke-width="0.9"/><path d="M4.2 9.4 V8 A4.8 4.8 0 0 1 13.8 8 V9.4" fill="none" stroke="#bbb" stroke-width="0.8"/></svg>
<svg class="ic" style="left:12px;top:340px" width="24" height="26" viewBox="0 0 24 26" ><g><g transform="rotate(-22 14.2 12.9)"><rect x="11.20" y="1.20" width="6" height="23.4" rx="1.7" fill="#fff" stroke="#111" stroke-width="0.95"/><rect x="11.50" y="3.10" width="3.36" height="19.80" fill="#111"/><ellipse cx="14.2" cy="2.70" rx="2.30" ry="1" fill="#fff" stroke="#111" stroke-width="0.7"/><path d="M11.60 22.00 Q14.2 23.40 16.80 22.00" fill="none" stroke="#111" stroke-width="0.7"/></g></g><rect x="1.2" y="16.4" width="7" height="6.2" rx="1" fill="#fff" stroke="#222" stroke-width="1"/><path d="M2.8 16.4 V14.6 A1.9 1.9 0 0 1 6.6 14.6 V16.4" fill="none" stroke="#222" stroke-width="1"/><rect x="4.2" y="18.6" width="1" height="2" fill="#222"/></svg>
<svg class="ic" style="left:14px;top:380px" width="18" height="24" viewBox="0 0 18 24" ><rect x="2" y="10.6" width="13.6" height="10.4" rx="1.6" fill="none" stroke="#222" stroke-width="1.3"/><path d="M4.6 10.4 V6.8 A4.3 4.3 0 0 1 13.2 6.8 V7.8" fill="none" stroke="#222" stroke-width="1.3"/><rect x="8.2" y="14.4" width="1.3" height="3.6" fill="#222"/></svg>
<svg class="ic" style="left:14px;top:420px" width="18" height="18" viewBox="0 0 18 18" ><g fill="none" stroke="#222" stroke-width="1.7" stroke-linecap="round" transform="rotate(-43 9 9)"><rect x="2.3" y="6.2" width="8.3" height="5.6" rx="2.8"/><rect x="7.4" y="6.2" width="8.3" height="5.6" rx="2.8"/></g></svg>
<svg class="ic" style="left:14px;top:459px" width="20" height="18" viewBox="0 0 20 18" ><g fill="none" stroke="#222" stroke-width="1.5"><path d="M1.6 8.6 C4.6 1.4 14.2 1.4 17.2 8.6 C14.2 15.8 4.6 15.8 1.6 8.6Z"/><circle cx="9.4" cy="8.6" r="2.5"/></g></svg>
<svg class="ic" style="left:36.2px;top:464.2px" width="4.4" height="6.8" viewBox="0 0 4.4 6.8"><path d="M1 1 L3.4 3.4 L1 5.8" fill="none" stroke="#444" stroke-width="1.4" stroke-linecap="round" stroke-linejoin="round"/></svg>
<svg class="ic" style="left:16px;top:497px" width="16" height="18" viewBox="0 0 16 18" ><g fill="none" stroke="#222" stroke-width="1.2"><path d="M1.2 3.4 H14"/><path d="M5.4 3 V1.8 H9.8 V3"/><path d="M2.6 3.6 L3.4 15 A1.6 1.6 0 0 0 5 16.4 H10.2 A1.6 1.6 0 0 0 11.8 15 L12.6 3.6" /><path d="M5.6 6.2V13.6M7.6 6.2V13.6M9.6 6.2V13.6"/></g></svg>
<svg class="ic" style="left:36.2px;top:503.1px" width="4.4" height="6.8" viewBox="0 0 4.4 6.8"><path d="M1 1 L3.4 3.4 L1 5.8" fill="none" stroke="#444" stroke-width="1.4" stroke-linecap="round" stroke-linejoin="round"/></svg>
<svg class="ic" style="left:11.5px;top:531px" width="24" height="24" viewBox="0 0 24 24" ><g transform="rotate(-38 11.5 12)" fill="none" stroke="#222" stroke-width="1.2"><rect x="0.8" y="7.6" width="21.6" height="8.6"/><path d="M5.2 7.6v3.6M9.2 7.6v3.6M13.2 7.6v3.6M17.2 7.6v3.6" stroke-width="1"/></g></svg>
<svg class="ic" style="left:11px;top:569px" width="24" height="24" viewBox="0 0 24 24" ><path d="M1.4 3.6 A1.6 1.6 0 0 1 3 2 H8.4 L10.4 4 H20.4 A1.6 1.6 0 0 1 22 5.6 V14.6 A1.6 1.6 0 0 1 20.4 16.2 H3 A1.6 1.6 0 0 1 1.4 14.6Z" fill="#fff" stroke="#222" stroke-width="1.1"/><path d="M10.4 4 H20.4 A1.6 1.6 0 0 1 22 5.6 V6.2 H12Z" fill="#777"/><g><g transform="rotate(-24 15.6 13.6)"><rect x="13.20" y="6.20" width="4.8" height="14.8" rx="1.7" fill="#fff" stroke="#111" stroke-width="0.95"/><rect x="13.50" y="8.10" width="2.69" height="11.20" fill="#111"/><ellipse cx="15.6" cy="7.70" rx="1.70" ry="1" fill="#fff" stroke="#111" stroke-width="0.7"/><path d="M13.60 18.40 Q15.6 19.80 17.60 18.40" fill="none" stroke="#111" stroke-width="0.7"/></g></g></svg>
<div class="ln" style="left:46px;top:577px;width:1313.6px;height:25px;background:#f6f7fa"></div>
<span class="t" style="left:54px;top:581.6px;">1D</span>
<span class="t" style="left:87px;top:581.6px;">5D</span>
<span class="t" style="left:119.5px;top:581.6px;">15D</span>
<span class="t" style="left:160.5px;top:581.6px;">1M</span>
<span class="t" style="left:193.5px;top:581.6px;">3M</span>
<span class="t" style="left:226.5px;top:581.6px;">6M</span>
<span class="t" style="left:261px;top:581.6px;">1Y</span>
<span class="t" style="left:292px;top:581.6px;">5Y</span>
<span class="t" style="left:323px;top:581.6px;">All</span>
<span class="t" style="left:370px;top:581.6px;letter-spacing:0.32px">08:16:09 (UTC+05:30)</span>
<span class="t" style="left:528px;top:581.6px;letter-spacing:0.25px">GoTo...</span>
<span class="t" style="left:1080px;top:581.6px;">Prob Cone</span>
<span class="t" style="left:1173px;top:581.6px;letter-spacing:0.25px">OI Profile</span>
<span class="t" style="left:1286px;top:581.6px;">Auto</span>
<span class="t" style="left:1330px;top:581.6px;">Log</span>
<svg class="ic" style="left:1254px;top:582px" width="16" height="16" viewBox="0 0 16 16" ><path d="M7.6 1.6 L9.4 5.6 L13.8 6 L10.4 8.9 L11.5 13.2 L7.6 10.9 L3.7 13.2 L4.8 8.9 L1.4 6 L5.8 5.6Z" fill="#f7b5a5" stroke="#333" stroke-width="1" stroke-linejoin="round"/></svg>
<i class="ln" style="left:0px;top:602px;width:1364px;height:1px;background:#e8e8ec"></i>
<i class="ln" style="left:0px;top:638px;width:1363px;height:2px;background:#e6e6e6"></i>
<i class="ln" style="left:1359.6px;top:0px;width:2px;height:602px;background:#dedee0"></i>
<i class="ln" style="left:1362px;top:603px;width:1.4px;height:36px;background:#e2e2e2"></i>
<i class="ln" style="left:176px;top:604px;width:1px;height:33px;background:#eeeeee"></i>
<i class="ln" style="left:230px;top:604px;width:1px;height:33px;background:#eeeeee"></i>
<i class="ln" style="left:276px;top:604px;width:1px;height:33px;background:#eeeeee"></i>
<i class="ln" style="left:364px;top:604px;width:1px;height:33px;background:#eeeeee"></i>
<i class="ln" style="left:447px;top:604px;width:1px;height:33px;background:#eeeeee"></i>
<i class="ln" style="left:561px;top:604px;width:1px;height:33px;background:#eeeeee"></i>
<i class="ln" style="left:662px;top:604px;width:1px;height:33px;background:#eeeeee"></i>
<i class="ln" style="left:749px;top:604px;width:1px;height:33px;background:#eeeeee"></i>
<i class="ln" style="left:856px;top:604px;width:1px;height:33px;background:#eeeeee"></i>
<i class="ln" style="left:1032px;top:604px;width:1px;height:33px;background:#eeeeee"></i>
<i class="ln" style="left:1077px;top:604px;width:1px;height:33px;background:#eeeeee"></i>
<i class="ln" style="left:1123px;top:604px;width:1px;height:33px;background:#eeeeee"></i>
<i class="ln" style="left:1170px;top:604px;width:1px;height:33px;background:#eeeeee"></i>
<i class="ln" style="left:1216px;top:604px;width:1px;height:33px;background:#eeeeee"></i>
<i class="ln" style="left:1265px;top:604px;width:1px;height:33px;background:#eeeeee"></i>
<div class="ln" style="left:1.2px;top:606.2px;width:34.6px;height:29.7px;border-radius:2.5px;background:#0a7cff"></div>
<svg class="ic" style="left:8px;top:612px" width="22" height="20" viewBox="0 0 22 20" ><rect x="0.5" y="0.5" width="20" height="18" rx="2.2" fill="none" stroke="#c4f0ff" stroke-width="1.1"/></svg>
<svg class="ic" style="left:43px;top:612px" width="22" height="20" viewBox="0 0 22 20" ><g fill="none" stroke="#1a1a1a" stroke-width="1.1"><rect x="0.5" y="0.5" width="20" height="18" rx="2.2"/><path d="M0.5 9.5H20.5"/></g></svg>
<svg class="ic" style="left:78px;top:612px" width="22" height="20" viewBox="0 0 22 20" ><g fill="none" stroke="#1a1a1a" stroke-width="1.1"><rect x="0.5" y="0.5" width="20" height="18" rx="2.2"/><path d="M10.5 0.5V18.5"/></g></svg>
<svg class="ic" style="left:113px;top:612px" width="22" height="20" viewBox="0 0 22 20" ><g fill="none" stroke="#1a1a1a" stroke-width="1.1"><rect x="0.5" y="0.5" width="20" height="18" rx="2.2"/><path d="M10.5 0.5V18.5M0.5 9.5H20.5"/></g></svg>
<svg class="ic" style="left:149px;top:618px" width="21" height="7" viewBox="0 0 21 7" ><g fill="none" stroke="#222" stroke-width="1.1"><circle cx="3.4" cy="3.4" r="2.1"/><circle cx="10.2" cy="3.4" r="2.1"/><circle cx="17" cy="3.4" r="2.1"/></g></svg>
<svg class="ic" style="left:195px;top:614px" width="17" height="15" viewBox="0 0 17 15" ><g fill="none" stroke="#222" stroke-width="1.8" stroke-linecap="round" stroke-linejoin="round"><path d="M1.6 5V2.6A1 1 0 0 1 2.6 1.6H5.4M10.6 1.6H13.6A1 1 0 0 1 14.6 2.6V5M14.6 9.6V12.2A1 1 0 0 1 13.6 13.2H10.6M5.4 13.2H2.6A1 1 0 0 1 1.6 12.2V9.6"/></g></svg>
<svg class="ic" style="left:245px;top:613px" width="17" height="17" viewBox="0 0 17 17" ><g transform="translate(16.9,0) scale(-1,1)"><g fill="none" stroke="#222" stroke-width="1.3"><path d="M8.4 1.4 A7 7 0 1 0 8.4 15.4 C10 15.4 10.4 14.2 9.8 13.2 C9 11.9 9.8 10.7 11.4 10.7 H13 A2.6 2.6 0 0 0 15.5 8.1 C15.5 4.2 12.4 1.4 8.4 1.4Z"/></g><g fill="#222"><circle cx="4.4" cy="10.6" r="0.9"/><circle cx="3.6" cy="7.6" r="0.9"/><circle cx="5" cy="4.9" r="0.9"/><circle cx="8" cy="3.8" r="0.9"/><circle cx="11" cy="5" r="0.9"/></g></g></svg>
<svg class="ic" style="left:291.9px;top:614px" width="19" height="14" viewBox="0 0 19 14" ><path d="M5 12.6 A3.6 3.6 0 0 1 4.4 5.5 A5 5 0 0 1 13.8 4.6 A4 4 0 0 1 13.6 12.6Z" fill="none" stroke="#333" stroke-width="1.2" stroke-linejoin="round"/></svg>
<span class="t" style="left:319px;top:613px;">Save</span>
<svg class="ic" style="left:380px;top:612px" width="17" height="18" viewBox="0 0 17 18" ><g fill="none" stroke="#333" stroke-width="1.2" stroke-linecap="round" stroke-linejoin="round"><path d="M8.2 2 A4.6 4.6 0 0 0 3.2 6.8 V9.4 L1.6 12.4 H13.6 L12.4 10.4"/><path d="M6.2 14.8 A1.6 1.6 0 0 0 9.2 14.8"/><path d="M12.6 2.4V7M10.3 4.7H14.9"/></g></svg>
<span class="t" style="left:404px;top:613px;">Alert</span>
<svg class="ic" style="left:462px;top:613px" width="17" height="16" viewBox="0 0 17 16" ><g fill="none" stroke="#333" stroke-width="1.1"><path d="M0.6 14.4H15.8"/><rect x="2" y="10.2" width="2.8" height="4.2"/><rect x="6.6" y="6.4" width="2.8" height="8"/><rect x="11.2" y="1.6" width="3" height="12.8"/></g></svg>
<span class="t" style="left:487px;top:613px;">Financials</span>
<svg class="ic" style="left:576px;top:611px" width="17" height="19" viewBox="0 0 17 19" ><g fill="none" stroke="#444" stroke-width="1"><rect x="1.4" y="2.6" width="13.6" height="15" rx="1"/><rect x="4.6" y="1" width="7.2" height="2.6" fill="#666"/><path d="M3.4 6.4H13M3.4 8.6H13M3.4 10.8H13M3.4 13H13M3.4 15.2H13" stroke="#777" stroke-width="0.9"/></g></svg>
<span class="t" style="left:600.5px;top:613px;">Account</span>
<svg class="ic" style="left:676px;top:611px" width="19" height="19" viewBox="0 0 19 19" ><g fill="#111"><path d="M5.5 1 L10.2 6 H7.7 V10.7 H3.3 V6 H0.8Z"/><path d="M13.3 17.8 L8.6 12.8 H11.1 V8 H15.5 V12.8 H18Z"/></g></svg>
<span class="t" style="left:703.2px;top:613px;">Trade</span>
<svg class="ic" style="left:764px;top:612px" width="14" height="18" viewBox="0 0 14 18" ><path d="M8.9 2.6 A1.45 1.45 0 0 1 11.8 2.6 V14.8 A2 2 0 0 1 9.8 16.8 H5.6 L2.2 12.6 A1.1 1.1 0 0 1 3.8 11 L4.6 11.7 V9.4 Q4.6 7.8 6.2 7.8 H8.9Z" fill="#f7c4b8" stroke="#2f2a26" stroke-width="1" stroke-linejoin="round"/><path d="M5.2 9.4H8.6M5.2 11.2H8.4M5.6 13H8.2" stroke="#f0a020" stroke-width="0.9"/><path d="M10.9 3V14" stroke="#a89a8c" stroke-width="0.9"/></svg>
<span class="t" style="left:785.5px;top:613px;">One Click</span>
<svg class="ic" style="left:1048px;top:612.5px" width="17" height="17" viewBox="0 0 17 17" ><circle cx="8.4" cy="8.4" r="8.2" fill="#2aa784"/><path d="M3.6 8.4 L12.8 4.6 L11.2 12.6 L8.2 10.6 L6.8 12 L6.6 9.8 L10.6 6.4 L5.8 9.2Z" fill="#fff"/></svg>
<svg class="ic" style="left:1094px;top:612.5px" width="17" height="17" viewBox="0 0 17 17" ><circle cx="8.4" cy="8.4" r="8.2" fill="#3d55a8"/><path d="M2 11.4 A7 7 0 0 0 14.8 11.4 Q8.4 9.4 2 11.4Z" fill="#3a3b44"/><path d="M4 6.4 Q8.4 4.6 12.8 6.4 L13.4 10.6 Q12.2 11.6 10.8 11.8 L10.2 10.8 H6.6 L6 11.8 Q4.6 11.6 3.4 10.6Z" fill="#eef1fb"/><circle cx="6.7" cy="8.7" r="0.95" fill="#3d55a8"/><circle cx="10.1" cy="8.7" r="0.95" fill="#3d55a8"/></svg>
<svg class="ic" style="left:1140px;top:616px" width="16" height="12" viewBox="0 0 16 12" ><rect x="0.9" y="1.1" width="14" height="9.2" rx="1.2" fill="#cfcfcf" stroke="#4f4f4f" stroke-width="1.3"/><g fill="#7a7a7a"><rect x="2.6" y="3" width="1" height="3.4"/><rect x="4.6" y="3" width="1" height="3.4"/><rect x="6.6" y="3" width="1" height="3.4"/><rect x="8.6" y="3" width="1" height="3.4"/><rect x="10.6" y="3" width="1" height="3.4"/><rect x="12.4" y="3" width="0.8" height="3.4"/></g><rect x="4" y="7.4" width="7.6" height="1.3" fill="#444"/><rect x="2.4" y="7.4" width="1" height="1.3" fill="#555"/><rect x="12.4" y="7.4" width="1" height="1.3" fill="#555"/></svg>
<svg class="ic" style="left:1187px;top:613px" width="13" height="17" viewBox="0 0 13 17" ><g fill="none" stroke="#222" stroke-width="1.2" stroke-linecap="round"><path d="M4.5 11.4 C4.3 10 1.5 8.6 1.5 5.9 A4.9 4.9 0 0 1 11.3 5.9 C11.3 8.6 8.5 10 8.3 11.4Z" stroke-linejoin="round"/><path d="M4.3 14.6H8.5" stroke-width="1.5"/></g></svg>
<svg class="ic" style="left:1230.5px;top:614px" width="21" height="14" viewBox="0 0 21 14" ><g fill="none" stroke="#444" stroke-width="1.2" stroke-linejoin="round"><rect x="1" y="1.2" width="13" height="11.4" rx="1.8"/><path d="M14 5.6 L19.6 2.6 V11.2 L14 8.2"/></g></svg>
<svg class="ic" style="left:1278px;top:611.5px" width="20" height="19" viewBox="0 0 20 19" ><path d="M7.6 5.2 L16 1 V14.4 L7.6 10.6Z" fill="#f4f4f4" stroke="#bdbdbd" stroke-width="0.9" stroke-linejoin="round"/><path d="M9 6.6 L15 3.6 V8.2 L9 8.6Z" fill="#fff"/><rect x="1.2" y="4.8" width="7.4" height="6.2" rx="1.4" fill="#5fb9a5"/><rect x="0.8" y="5.4" width="1.6" height="5" rx="0.8" fill="#b9c4c2"/><path d="M4.2 10.6 H8 L8.6 17.4 H5.6Z" fill="#5fb9a5"/><rect x="15.4" y="0.4" width="1.7" height="14.6" rx="0.8" fill="#8fb3ad"/><path d="M17.6 6.6V8.8" stroke="#7d8c8a" stroke-width="0.9"/></svg>
<span class="t" style="left:1306.5px;top:613px;">Publish</span>
<div class="ln" style="left:40px;top:273px;width:11px;height:31px;border-radius:4.6px;background:#5877b4;box-shadow:0 0 4px rgba(0,0,0,.18)"></div>
<svg class="ic" style="left:40px;top:273px" width="11" height="31" viewBox="0 0 11 31" ><path d="M6.4 12.3 L4.5 15.5 L6.4 18.7" fill="none" stroke="#eef1e2" stroke-width="1" stroke-linecap="round" stroke-linejoin="round"/></svg>
<div class="ln" style="left:1346px;top:273px;width:11px;height:31px;border-radius:4.6px;background:#5877b4;box-shadow:0 0 4px rgba(0,0,0,.18)"></div>
<svg class="ic" style="left:1346px;top:273px" width="11" height="31" viewBox="0 0 11 31" ><path d="M6.4 12.3 L4.5 15.5 L6.4 18.7" fill="none" stroke="#eef1e2" stroke-width="1" stroke-linecap="round" stroke-linejoin="round"/></svg>
</body></html>
